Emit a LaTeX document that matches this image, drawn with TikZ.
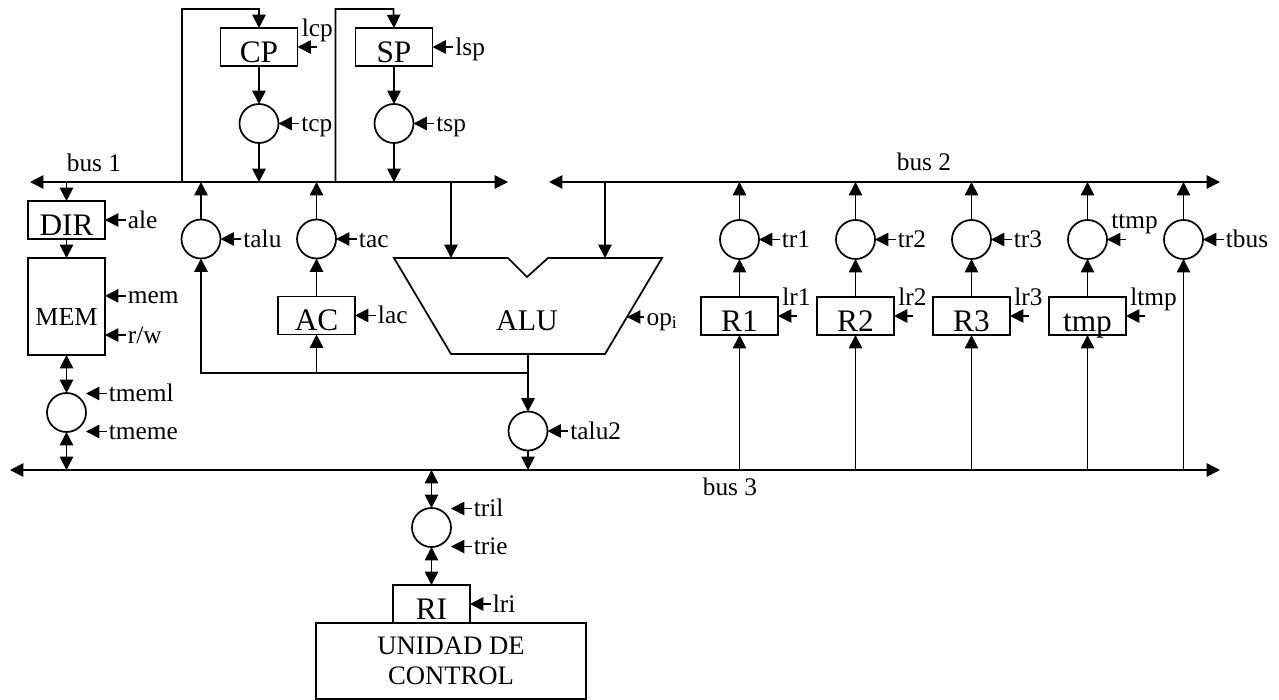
\documentclass[tikz,border=0pt]{standalone}
\usepackage{fontspec}
\setmainfont{Liberation Serif}
\usetikzlibrary{positioning,arrows.meta,calc}

\begin{document}
\begin{tikzpicture}[
    x=0.75pt, y=-0.75pt,
    node distance=28.5pt and 29.25pt,
    every node/.style={font=\fontsize{19}{22}\selectfont},
    regbox/.style={draw, line width=1.3pt, outer sep=0pt, minimum width=57.75pt, minimum height=28.5pt, inner sep=0pt, text height=22.5pt, text depth=0pt, font=\fontsize{23.5}{26}\selectfont},
    membox/.style={draw, line width=1.3pt, outer sep=0pt, minimum width=57.75pt, minimum height=72.75pt, inner sep=0pt, text height=27.75pt, text depth=0pt, font=\fontsize{19.5}{22}\selectfont},
    ctrlbox/.style={draw, line width=1.3pt, outer sep=0pt, minimum width=202.5pt, minimum height=57pt, align=center, inner sep=0pt, font=\fontsize{20}{22.5}\selectfont},
    gate/.style={draw, circle, line width=1.3pt, outer sep=0pt, minimum size=29.25pt, inner sep=0pt},
    sig/.style={inner sep=0pt, inner xsep=1.5pt, text height=16pt, text depth=4pt},
    wire/.style={line width=1.3pt},
    arrow/.style={-{Triangle[length=10pt,width=10pt]}, line width=1.3pt},
    bothways/.style={{Triangle[length=10pt,width=10pt]}-{Triangle[length=10pt,width=10pt]}, line width=1.3pt}
  ]
  \useasboundingbox (0,0) rectangle (1279,700);

  % --- Buses ---
  \coordinate (busoneL) at (30,182);
  \coordinate (busoneR) at (508,182);
  \coordinate (bustwoL) at (549,182);
  \coordinate (bustwoR) at (1220,182);
  \coordinate (busthreeL) at (10,470);
  \coordinate (busthreeR) at (1220,470);
  \draw[bothways] (busoneL) -- (busoneR);
  \draw[bothways] (bustwoL) -- (bustwoR);
  \draw[bothways] (busthreeL) -- (busthreeR);
  \node[sig, anchor=base] (busone) at (94,171) {bus 1};
  \node[sig, anchor=base] (bustwo) at (924,170) {bus 2};
  \node[sig, anchor=base] (busthree) at (730,495) {bus 3};

  % --- Memory column ---
  \node[regbox] (dir) at (66.5,220) {DIR};
  \node[membox, below=14.25pt of dir] (memb) {MEM};
  \node[gate, below=of memb] (tmemc) {};

  % --- CP and SP ---
  \node[regbox] (cp) at (259,47) {CP};
  \node[regbox, right=43.5pt of cp] (sp) {SP};
  \node[gate, below=of cp] (tcpc) {};
  \node[gate, below=of sp] (tspc) {};

  % --- talu, tac, AC ---
  \node[gate] (taluc) at (201,239) {};
  \node[gate, right=57.4pt of taluc] (tacc) {};
  \node[regbox, below=of tacc] (ac) {AC};

  % --- ALU ---
  \coordinate (alutl) at (394,258);
  \coordinate (alunl) at (508,258);
  \coordinate (alun) at (527,277);
  \coordinate (alunr) at (548,258);
  \coordinate (alutr) at (662,258);
  \coordinate (alubr) at (605,354);
  \coordinate (alubl) at (451,354);
  \coordinate (aluop) at (627,317);
  \coordinate (aluina) at (451,258);
  \coordinate (aluinb) at (605,258);
  \coordinate (alubm) at (528,354);
  \coordinate (alujn) at (528,373);
  \draw[wire, line join=miter] (alutl) -- (alunl) -- (alun) -- (alunr) -- (alutr) -- (alubr) -- (alubl) -- cycle;
  \node[font=\fontsize{22.5}{25}\selectfont, anchor=base] (alu) at (527,330) {ALU};
  \node[gate] (talutwoc) at (528,431) {};

  % --- Registers ---
  \node[regbox] (rone) at (739.5,316) {R1};
  \node[regbox, right=of rone] (rtwo) {R2};
  \node[regbox, right=of rtwo] (rthree) {R3};
  \node[regbox, right=of rthree] (rtmp) {tmp};
  \node[gate, above=of rone] (tronec) {};
  \node[gate, above=of rtwo] (trtwoc) {};
  \node[gate, above=of rthree] (trthreec) {};
  \node[gate, above=of rtmp] (ttmpc) {};
  \node[gate, right=42.75pt of ttmpc] (tbusc) {};

  % --- Control unit ---
  \node[ctrlbox] (uc) at (451,661) {UNIDAD DE\\CONTROL};
  \node[regbox] (ri) at (431.5,604) {RI};
  \node[gate, above=of ri] (tric) {};

  % --- Control signals ---
  \node[sig, right=1.5pt of cp.north east] (lcp) {lcp};
  \node[sig, right=15.5pt of sp] (lsp) {lsp};
  \node[sig, right=15.5pt of tcpc] (tcp) {tcp};
  \node[sig, right=15.5pt of tspc] (tsp) {tsp};
  \node[sig, right=15.5pt of dir] (ale) {ale};
  \node[sig, right=15.5pt of memb.east, yshift=8pt] (lmem) {mem};
  \node[sig, right=15.5pt of memb.east, yshift=-21.4pt] (lrw) {r/w};
  \node[sig, right=15.5pt of tmemc.east, yshift=14.25pt] (tmeml) {tmeml};
  \node[sig, right=15.5pt of tmemc.east, yshift=-14.25pt] (tmeme) {tmeme};
  \node[sig, right=15.5pt of taluc] (talu) {talu};
  \node[sig, right=15.5pt of tacc] (tac) {tac};
  \node[sig, right=15.5pt of ac] (lac) {lac};
  \node[sig, right=13pt of aluop] (opi) {op\textsubscript{i}};
  \node[sig, right=15.5pt of talutwoc] (talutwo) {talu2};
  \node[sig, right=15.5pt of tronec] (trone) {tr1};
  \node[sig, right=15.5pt of trtwoc] (trtwo) {tr2};
  \node[sig, right=15.5pt of trthreec] (trthree) {tr3};
  \node[sig, right=1.5pt of ttmpc.east, yshift=14.25pt] (ttmp) {ttmp};
  \node[sig, right=15.5pt of tbusc] (tbus) {tbus};
  \node[sig, right=1.5pt of rone.north east] (lrone) {lr1};
  \node[sig, right=1.5pt of rtwo.north east] (lrtwo) {lr2};
  \node[sig, right=1.5pt of rthree.north east] (lrthree) {lr3};
  \node[sig, right=1.5pt of rtmp.north east] (ltmp) {ltmp};
  \node[sig, right=15.5pt of tric.east, yshift=14.25pt] (tril) {tril};
  \node[sig, right=15.5pt of tric.east, yshift=-14.25pt] (trie) {trie};
  \node[sig, right=15.5pt of ri] (lri) {lri};

  \draw[arrow] ([xshift=14.5pt]cp.east) -- (cp.east);
  \draw[arrow] (lsp) -- (sp);
  \draw[arrow] (tcp) -- (tcpc);
  \draw[arrow] (tsp) -- (tspc);
  \draw[arrow] (ale) -- (dir);
  \draw[arrow] (lmem.west) -- (memb.east |- lmem.west);
  \draw[arrow] (lrw.west) -- (memb.east |- lrw.west);
  \draw[arrow] (tmeml.west) -- (tmemc.east |- tmeml.west);
  \draw[arrow] (tmeme.west) -- (tmemc.east |- tmeme.west);
  \draw[arrow] (talu) -- (taluc);
  \draw[arrow] (tac) -- (tacc);
  \draw[arrow] (lac) -- (ac);
  \draw[arrow] (opi.west) -- (aluop);
  \draw[arrow] (talutwo) -- (talutwoc);
  \draw[arrow] (trone) -- (tronec);
  \draw[arrow] (trtwo) -- (trtwoc);
  \draw[arrow] (trthree) -- (trthreec);
  \draw[arrow] ([xshift=14.5pt]ttmpc.east) -- (ttmpc.east);
  \draw[arrow] (tbus) -- (tbusc);
  \draw[arrow] ([xshift=14.5pt]rone.east) -- (rone.east);
  \draw[arrow] ([xshift=14.5pt]rtwo.east) -- (rtwo.east);
  \draw[arrow] ([xshift=14.5pt]rthree.east) -- (rthree.east);
  \draw[arrow] ([xshift=14.5pt]rtmp.east) -- (rtmp.east);
  \draw[arrow] (tril.west) -- (tric.east |- tril.west);
  \draw[arrow] (trie.west) -- (tric.east |- trie.west);
  \draw[arrow] (lri) -- (ri);

  % --- Data paths: bus 1 ---
  \coordinate (cptap) at (182,182);
  \coordinate (sptap) at (335.5,182);
  \coordinate (cptop) at (259,9);
  \coordinate (sptop) at (393.5,9);
  \draw[arrow] (dir.north |- busoneL) -- (dir.north);
  \draw[arrow] (dir) -- (memb);
  \draw[bothways] (memb) -- (tmemc);
  \draw[bothways] (tmemc) -- (tmemc |- busthreeL);
  \draw[arrow] (cptap) |- (cptop) -- (cp.north);
  \draw[arrow] (sptap) |- (sptop) -- (sp.north);
  \draw[arrow] (cp) -- (tcpc);
  \draw[arrow] (sp) -- (tspc);
  \draw[arrow] (tcpc) -- (tcpc |- busoneL);
  \draw[arrow] (tspc) -- (tspc |- busoneL);
  \draw[arrow] (taluc) -- (taluc |- busoneL);
  \draw[arrow] (tacc) -- (tacc |- busoneL);
  \draw[arrow] (ac) -- (tacc);
  \draw[arrow] (aluina |- busoneL) -- (aluina);
  \draw[arrow] (aluinb |- bustwoL) -- (aluinb);

  % --- ALU output ---
  \draw[arrow] (alubm) -- (talutwoc);
  \draw[arrow] (alujn) -| (taluc);
  \draw[arrow] (ac.south |- alujn) -- (ac);
  \draw[arrow] (talutwoc) -- (talutwoc |- busthreeL);

  % --- Registers to buses ---
  \draw[arrow] (rone.south |- busthreeL) -- (rone);
  \draw[arrow] (rtwo.south |- busthreeL) -- (rtwo);
  \draw[arrow] (rthree.south |- busthreeL) -- (rthree);
  \draw[arrow] (rtmp.south |- busthreeL) -- (rtmp);
  \draw[arrow] (rone) -- (tronec);
  \draw[arrow] (rtwo) -- (trtwoc);
  \draw[arrow] (rthree) -- (trthreec);
  \draw[arrow] (rtmp) -- (ttmpc);
  \draw[arrow] (tronec) -- (tronec |- bustwoL);
  \draw[arrow] (trtwoc) -- (trtwoc |- bustwoL);
  \draw[arrow] (trthreec) -- (trthreec |- bustwoL);
  \draw[arrow] (ttmpc) -- (ttmpc |- bustwoL);
  \draw[arrow] (tbusc) -- (tbusc |- bustwoL);
  \draw[arrow] (tbusc |- busthreeL) -- (tbusc);

  % --- Bus 3 to RI ---
  \draw[bothways] (tric |- busthreeL) -- (tric);
  \draw[bothways] (tric) -- (ri);

\end{tikzpicture}
\end{document}
